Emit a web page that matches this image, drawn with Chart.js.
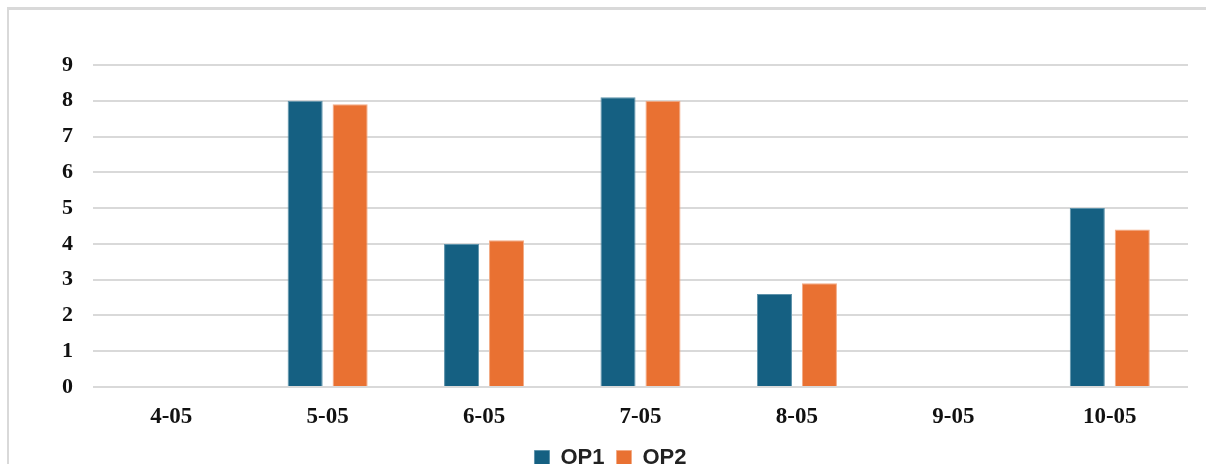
<!DOCTYPE html>
<html>
<head>
<meta charset="utf-8">
<script src="https://cdn.jsdelivr.net/npm/chart.js@4"></script>
<style>
  html, body { margin: 0; padding: 0; background: #fff; }
  #wrap { position: relative; width: 1206px; height: 464px; overflow: hidden; }
  #frame { position: absolute; left: 7px; top: 7px; right: -10px; bottom: -10px;
           border-left: 2px solid #d9d9d9; border-top: 3px solid #d9d9d9; }
  canvas { position: absolute; left: 0; top: 0; }
</style>
</head>
<body>
<div id="wrap">
  <div id="frame"></div>
  <canvas id="grafico" width="1206" height="475"></canvas>
</div>
<script>
// dados
const dias = ['4-05', '5-05', '6-05', '7-05', '8-05', '9-05', '10-05'];
const op1 = [null, 8.0, 4.0, 8.1, 2.6, null, 5.0];
const op2 = [null, 7.9, 4.1, 8.0, 2.9, null, 4.4];

const ctx = document.getElementById('grafico');

new Chart(ctx, {
  type: 'bar',
  data: {
    labels: dias,
    datasets: [{
      label: 'OP1',
      data: op1,
      backgroundColor: '#156082',
      borderColor: '#5e93ab',
      borderWidth: 1,
      barPercentage: 0.78,
      categoryPercentage: 0.575
    }, {
      label: 'OP2',
      data: op2,
      backgroundColor: '#e97132',
      borderColor: '#f3ab85',
      borderWidth: 1,
      barPercentage: 0.78,
      categoryPercentage: 0.575
    }]
  },
  options: {
    responsive: false,
    animation: false,
    layout: {
      padding: { left: 33, right: 18, top: 65, bottom: -4 }
    },
    plugins: {
      tooltip: { enabled: false },
      legend: {
        position: 'bottom',
        labels: {
          color: '#222',
          boxWidth: 15,
          boxHeight: 15,
          padding: 12,
          font: { family: 'Liberation Sans', size: 22, weight: 'bold' }
        }
      }
    },
    scales: {
      x: {
        grid: { display: false },
        border: { display: false },
        ticks: {
          color: '#111',
          padding: 8,
          font: { family: 'Liberation Serif', size: 23, weight: 'bold' }
        },
        afterFit: function (s) { s.height = 48; }
      },
      y: {
        min: 0,
        max: 9,
        border: { display: false },
        grid: { color: '#d9d9d9', lineWidth: 2, drawTicks: false },
        ticks: {
          stepSize: 1,
          color: '#111',
          padding: 20,
          font: { family: 'Liberation Serif', size: 22, weight: 'bold' }
        },
        afterFit: function (s) { s.width = 60; }
      }
    }
  }
});
</script>
</body>
</html>
